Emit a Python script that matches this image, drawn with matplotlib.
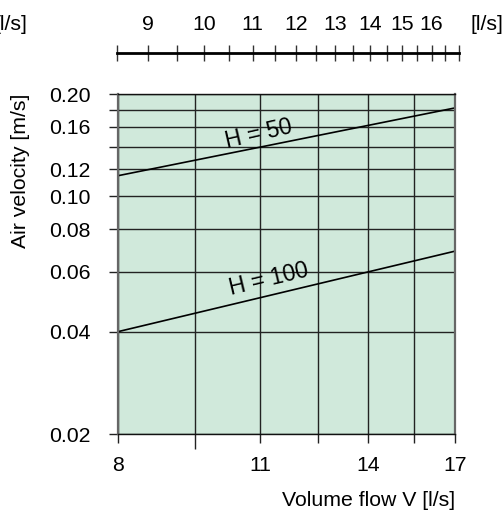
import numpy as np
import matplotlib
matplotlib.use('Agg')
import matplotlib.pyplot as plt
from matplotlib.ticker import FixedLocator, NullFormatter, FixedFormatter

plt.rcParams['font.family'] = ['Liberation Sans', 'DejaVu Sans']

# volume flow [l/s] and air velocity [m/s] for the two throw heights
flow = [8, 17]
velocity_h50 = [0.115, 0.182]
velocity_h100 = [0.040, 0.069]
curve_labels = ['H = 50', 'H = 100']
label_pos = [(10.95, 0.153), (11.2, 0.0572)]
label_rot = [13, 13.5]

x_major = [8, 11, 14, 17]
x_minor = [9.5, 12.5, 15.5]
y_major = [0.02, 0.04, 0.06, 0.08, 0.10, 0.12, 0.16, 0.20]
y_minor = [0.14, 0.18]

top_major = [9, 10, 11, 12, 13, 14, 15, 16]
top_minor = [8.5, 9.5, 10.5, 11.5, 12.5, 13.5, 14.5, 15.5, 16.5, 17]

fs = 15.3
W, H = 504, 514
fig = plt.figure(figsize=(W / 100, H / 100), dpi=100)

# main log-log chart
ax = fig.add_axes([118 / W, 1 - 434 / H, 337 / W, 340 / H])
ax.set_facecolor('#d0e9db')
ax.set_xscale('log')
ax.set_yscale('log')
ax.set_xlim(8, 17)
ax.set_ylim(0.02, 0.20)

ax.xaxis.set_major_locator(FixedLocator(x_major))
ax.xaxis.set_major_formatter(FixedFormatter([str(v) for v in x_major]))
ax.xaxis.set_minor_locator(FixedLocator(x_minor))
ax.xaxis.set_minor_formatter(NullFormatter())
ax.yaxis.set_major_locator(FixedLocator(y_major))
ax.yaxis.set_major_formatter(FixedFormatter(['%.2f' % v for v in y_major]))
ax.yaxis.set_minor_locator(FixedLocator(y_minor))
ax.yaxis.set_minor_formatter(NullFormatter())

ax.tick_params(which='both', direction='out', length=6.5, width=1, color='#222222',
               labelsize=fs)
ax.tick_params(axis='x', which='both', pad=9)
ax.tick_params(axis='y', which='both', pad=13)
ax.grid(True, which='both', color='#222222', lw=1)
ax.set_axisbelow(True)
# first intermediate flow tick runs a bit longer
ax.xaxis.get_minor_ticks()[0].tick1line.set_markersize(10.5)

for side in ['left', 'right']:
    ax.spines[side].set_color('#666666')
    ax.spines[side].set_linewidth(1.6)
for side in ['top', 'bottom']:
    ax.spines[side].set_color('#111111')
    ax.spines[side].set_linewidth(1)

ax.plot(flow, velocity_h50, color='black', lw=1.2)
ax.plot(flow, velocity_h100, color='black', lw=1.2)
for txt, (px, py), rot in zip(curve_labels, label_pos, label_rot):
    ax.text(px, py, txt, fontsize=16.5, rotation=rot, ha='center', va='center',
            rotation_mode='anchor')

ax.set_xlabel('Volume flow V [l/s]', fontsize=fs, loc='right', labelpad=12)
ax.set_ylabel('Air velocity [m/s]', fontsize=fs, loc='top', labelpad=14)

# auxiliary flow scale along the top
def fwd(v):
    with np.errstate(divide='ignore', invalid='ignore'):
        return -np.power(v, -0.3)

def inv(u):
    with np.errstate(divide='ignore', invalid='ignore'):
        return np.power(-u, -1 / 0.3)

axt = fig.add_axes([117.3 / W, 1 - 52.7 / H, 341.4 / W, 0.0001])
axt.set_xscale('function', functions=(fwd, inv))
axt.set_xlim(8.5, 17)
axt.patch.set_visible(False)
for side in ['left', 'right', 'bottom']:
    axt.spines[side].set_visible(False)
axt.spines['top'].set_linewidth(2)
axt.yaxis.set_visible(False)
axt.xaxis.tick_top()
axt.xaxis.set_major_locator(FixedLocator(top_major))
axt.xaxis.set_major_formatter(FixedFormatter([str(v) for v in top_major]))
axt.xaxis.set_minor_locator(FixedLocator(top_minor))
axt.xaxis.set_minor_formatter(NullFormatter())
axt.tick_params(which='both', direction='inout', length=11, width=1,
                color='#333333', labelsize=fs, pad=8)

fig.text(-5 / W, 1 - 24 / H, '[l/s]', fontsize=fs, ha='left', va='center')
fig.text(471 / W, 1 - 24 / H, '[l/s]', fontsize=fs, ha='left', va='center')

fig.savefig('out.png', dpi=100)
